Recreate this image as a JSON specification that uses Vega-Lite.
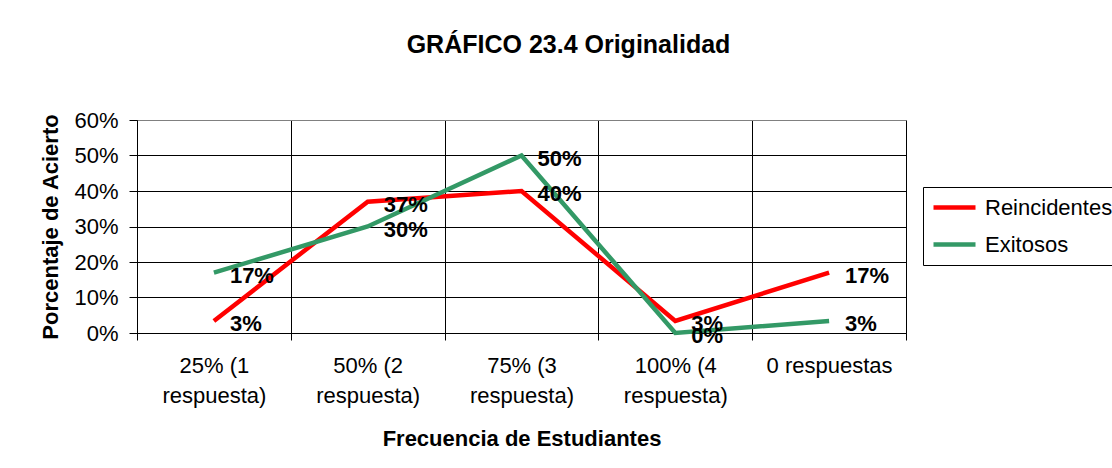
{
  "$schema": "https://vega.github.io/schema/vega-lite/v6.json",
  "autosize": {"type": "none"},
  "width": 769,
  "height": 213,
  "padding": {"left": 137, "top": 120, "right": 206, "bottom": 135},
  "background": "white",
  "title": {
    "text": "GRÁFICO 23.4 Originalidad",
    "font": "Liberation Sans",
    "fontSize": 25,
    "fontWeight": "bold",
    "color": "black",
    "anchor": "middle",
    "dx": 47,
    "offset": 51
  },
  "data": {
    "values": [
      {"cat": "25% (1 respuesta)", "serie": "Reincidentes", "value": 0.034},
      {"cat": "50% (2 respuesta)", "serie": "Reincidentes", "value": 0.37},
      {"cat": "75% (3 respuesta)", "serie": "Reincidentes", "value": 0.40},
      {"cat": "100% (4 respuesta)", "serie": "Reincidentes", "value": 0.034},
      {"cat": "0 respuestas", "serie": "Reincidentes", "value": 0.17},
      {"cat": "25% (1 respuesta)", "serie": "Exitosos", "value": 0.17},
      {"cat": "50% (2 respuesta)", "serie": "Exitosos", "value": 0.30},
      {"cat": "75% (3 respuesta)", "serie": "Exitosos", "value": 0.50},
      {"cat": "100% (4 respuesta)", "serie": "Exitosos", "value": 0.0},
      {"cat": "0 respuestas", "serie": "Exitosos", "value": 0.034}
    ]
  },
  "encoding": {
    "x": {
      "field": "cat",
      "type": "nominal",
      "sort": null,
      "bandPosition": 0.5,
      "scale": {"type": "band", "paddingInner": 0, "paddingOuter": 0},
      "axis": {
        "title": "Frecuencia de Estudiantes",
        "labelAngle": 0,
        "tickBand": "extent",
        "tickSize": 7,
        "labelPadding": 15,
        "labelLineHeight": 30,
        "labelExpr": "indexof(datum.label, ' respuesta)') > 0 ? [substring(datum.label, 0, indexof(datum.label, ' respuesta)')), 'respuesta)'] : datum.label",
        "grid": true,
        "gridColor": "black",
        "titlePadding": 22
      }
    },
    "y": {
      "field": "value",
      "type": "quantitative",
      "scale": {"domain": [0, 0.6], "nice": false},
      "axis": {
        "title": "Porcentaje de Acierto",
        "values": [0, 0.1, 0.2, 0.3, 0.4, 0.5, 0.6],
        "format": ".0%",
        "tickSize": 8,
        "labelPadding": 11,
        "titlePadding": 11,
        "grid": true,
        "gridColor": {"condition": {"test": "datum.value >= 0.59", "value": "#808080"}, "value": "black"}
      }
    }
  },
  "layer": [
    {
      "mark": {"type": "line", "strokeWidth": 4.5, "strokeJoin": "miter"},
      "encoding": {
        "color": {
          "field": "serie",
          "type": "nominal",
          "sort": null,
          "scale": {"domain": ["Reincidentes", "Exitosos"], "range": ["#FF0000", "#339966"]},
          "legend": {
            "title": null,
            "orient": "none",
            "legendX": 786,
            "legendY": 67,
            "strokeColor": "black",
            "padding": 8,
            "symbolType": "stroke",
            "symbolSize": 1764,
            "symbolStrokeWidth": 4.5,
            "clipHeight": 25,
            "rowPadding": 12,
            "labelOffset": 7,
            "labelFont": "Liberation Sans",
            "labelFontSize": 22,
            "labelColor": "black"
          }
        }
      }
    },
    {
      "mark": {
        "type": "text",
        "align": "left",
        "baseline": "middle",
        "dx": 16,
        "dy": 3,
        "font": "Liberation Sans",
        "fontSize": 22,
        "fontWeight": "bold",
        "color": "black"
      },
      "encoding": {
        "text": {"field": "value", "type": "quantitative", "format": ".0%"}
      }
    }
  ],
  "config": {
    "view": {"stroke": "#808080", "strokeWidth": 1},
    "axis": {
      "labelFont": "Liberation Sans",
      "labelFontSize": 22,
      "labelColor": "black",
      "titleFont": "Liberation Sans",
      "titleFontSize": 22,
      "titleFontWeight": "bold",
      "titleColor": "black",
      "domainColor": "black",
      "domainWidth": 1,
      "tickColor": "black",
      "tickWidth": 1,
      "gridWidth": 1,
      "gridOpacity": 1
    }
  }
}
